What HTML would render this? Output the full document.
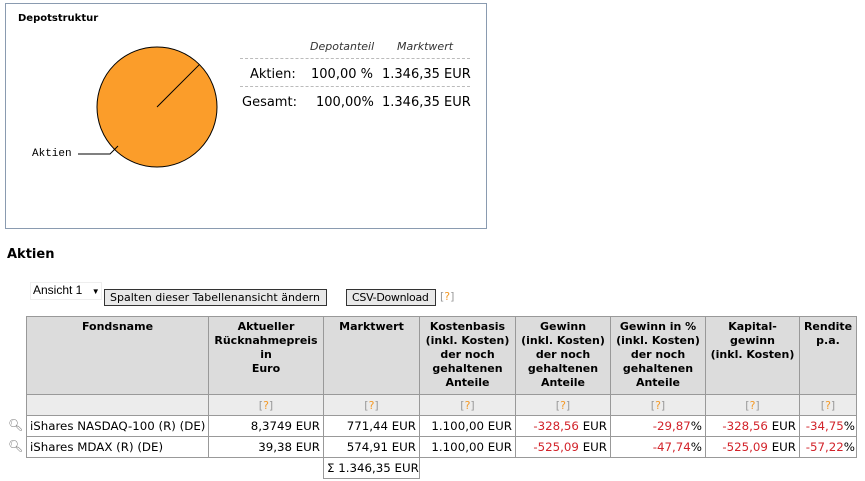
<!DOCTYPE html>
<html><head><meta charset="utf-8"><style>
body{margin:0;width:865px;height:481px;background:#fff;font-family:"DejaVu Sans","Liberation Sans",sans-serif;position:relative;overflow:hidden;color:#000}
.abs{position:absolute}
.box{left:5px;top:3px;width:480px;height:224px;border:1px solid #8a9bb0}
.dt{font-size:13px;white-space:nowrap}
.dash{border-top:1px dashed #bbb;height:0;left:240px;width:230px}
table{border-collapse:collapse;font-size:11px;table-layout:fixed;width:830px}
td,th{border:1px solid #999;padding:0 3px;white-space:nowrap;overflow:hidden}
th{background:#dcdcdc;vertical-align:top;font-weight:bold;text-align:center;line-height:14px;padding-top:3px;padding-left:0;padding-right:0}
tr.q td{background:#ececec;text-align:center;color:#999;height:20px}
tr.q span{color:#f39a2a}
tr.d td{text-align:right;height:20px;font-size:11.8px}
.r{color:#d2232a}
.btn{font-size:11px;background:#e8e8e8;border:1px solid #333;padding:0 5px;height:15px;line-height:15px;white-space:nowrap}
</style></head><body>
<div class="abs box"></div>
<div class="abs" style="left:18px;top:13px;font-size:10px;font-weight:bold">Depotstruktur</div>
<svg class="abs" style="left:0;top:0" width="240" height="228" id="pie"></svg>
<div class="abs dt" style="left:310px;top:40px;font-style:italic;font-size:11px;color:#333">Depotanteil</div>
<div class="abs dt" style="left:397px;top:40px;font-style:italic;font-size:11px;color:#333">Marktwert</div>
<div class="abs dash" style="top:58px"></div>
<div class="abs dt" style="left:250px;top:67px">Aktien:</div>
<div class="abs dt" style="left:311px;top:67px">100,00 %</div>
<div class="abs dt" style="left:382px;top:67px">1.346,35 EUR</div>
<div class="abs dash" style="top:86px"></div>
<div class="abs dt" style="left:242px;top:95px">Gesamt:</div>
<div class="abs dt" style="left:316px;top:95px">100,00%</div>
<div class="abs dt" style="left:382px;top:95px">1.346,35 EUR</div>

<div class="abs" style="left:7px;top:247px;font-size:13px;font-weight:bold">Aktien</div>
<div class="abs" style="left:30px;top:282px;width:68px;height:16px;font-family:'Liberation Sans',sans-serif;font-size:12px;border:1px solid #eee;line-height:14px;padding-left:2px">Ansicht 1 <span style="font-size:8px;margin-left:6px">▼</span></div>
<div class="abs btn" style="left:104px;top:289px;width:211px">Spalten dieser Tabellenansicht ändern</div>
<div class="abs btn" style="left:346px;top:289px;width:78px;letter-spacing:-0.3px">CSV-Download</div>
<div class="abs" style="left:440px;top:290px;font-size:11px;color:#999">[<span style="color:#f39a2a">?</span>]</div>

<table class="abs" style="left:26px;top:316px">
<colgroup><col style="width:182px"><col style="width:115px"><col style="width:96px"><col style="width:96px"><col style="width:95px"><col style="width:95px"><col style="width:94px"><col style="width:57px"></colgroup>
<tr style="height:78px">
<th>Fondsname</th>
<th>Aktueller<br>Rücknahmepreis<br>in<br>Euro</th>
<th>Marktwert</th>
<th>Kostenbasis<br>(inkl. Kosten)<br>der noch<br>gehaltenen<br>Anteile</th>
<th>Gewinn<br>(inkl. Kosten)<br>der noch<br>gehaltenen<br>Anteile</th>
<th>Gewinn in %<br>(inkl. Kosten)<br>der noch<br>gehaltenen<br>Anteile</th>
<th>Kapital-<br>gewinn<br>(inkl. Kosten)</th>
<th>Rendite<br>p.a.</th>
</tr>
<tr class="q"><td></td><td>[<span>?</span>]</td><td>[<span>?</span>]</td><td>[<span>?</span>]</td><td>[<span>?</span>]</td><td>[<span>?</span>]</td><td>[<span>?</span>]</td><td>[<span>?</span>]</td></tr>
<tr class="d"><td style="text-align:left">iShares NASDAQ-100 (R) (DE)</td><td>8,3749 EUR</td><td>771,44 EUR</td><td>1.100,00 EUR</td><td><span class="r">-328,56</span> EUR</td><td><span class="r">-29,87</span>%</td><td><span class="r">-328,56</span> EUR</td><td style="padding:0 1px"><span class="r">-34,75</span>%</td></tr>
<tr class="d"><td style="text-align:left">iShares MDAX (R) (DE)</td><td>39,38 EUR</td><td>574,91 EUR</td><td>1.100,00 EUR</td><td><span class="r">-525,09</span> EUR</td><td><span class="r">-47,74</span>%</td><td><span class="r">-525,09</span> EUR</td><td style="padding:0 1px"><span class="r">-57,22</span>%</td></tr>
<tr class="d"><td style="border:none"></td><td style="border:none"></td><td>Σ 1.346,35 EUR</td><td style="border:none"></td><td style="border:none"></td><td style="border:none"></td><td style="border:none"></td><td style="border:none"></td></tr>
</table>
<div class="abs" style="left:8px;top:418px;font-size:12px;color:#777">🔍︎</div>
<div class="abs" style="left:8px;top:439px;font-size:12px;color:#777">🔍︎</div>

<script>
const categories=["Aktien"];
const values=[1346.35];
const colors=["#fb9d2a"];
const svg=document.getElementById('pie');
const NS="http://www.w3.org/2000/svg";
const cx=157,cy=107,r=60;
const total=values.reduce((a,b)=>a+b,0);
let ang=-Math.PI/4;
values.forEach((v,i)=>{
  const frac=v/total;
  let el;
  if(frac>=0.9999){
    el=document.createElementNS(NS,'circle');
    el.setAttribute('cx',cx);el.setAttribute('cy',cy);el.setAttribute('r',r);
  }else{
    const a2=ang+frac*2*Math.PI;
    el=document.createElementNS(NS,'path');
    el.setAttribute('d',`M${cx},${cy}L${cx+r*Math.cos(ang)},${cy+r*Math.sin(ang)}A${r},${r} 0 ${frac>0.5?1:0} 1 ${cx+r*Math.cos(a2)},${cy+r*Math.sin(a2)}Z`);
  }
  el.setAttribute('fill',colors[i]);el.setAttribute('stroke','#000');
  
  
  svg.appendChild(el);
  const ln=document.createElementNS(NS,'line');
  ln.setAttribute('x1',cx);ln.setAttribute('y1',cy);
  ln.setAttribute('x2',cx+r*Math.cos(ang));ln.setAttribute('y2',cy+r*Math.sin(ang));
  ln.setAttribute('stroke','#000');
  
  
  svg.appendChild(ln);
  ang+=frac*2*Math.PI;
  const pl=document.createElementNS(NS,'polyline');
  pl.setAttribute('points','118,146 110,154 78,154');
  pl.setAttribute('fill','none');pl.setAttribute('stroke','#000');
  
  
  svg.appendChild(pl);
  const t=document.createElementNS(NS,'text');
  t.setAttribute('x',32);t.setAttribute('y',156);
  t.setAttribute('font-family','Liberation Mono, monospace');t.setAttribute('font-size','11');
  t.textContent=categories[i];
  
  
  svg.appendChild(t);
});
</script>
</body></html>
